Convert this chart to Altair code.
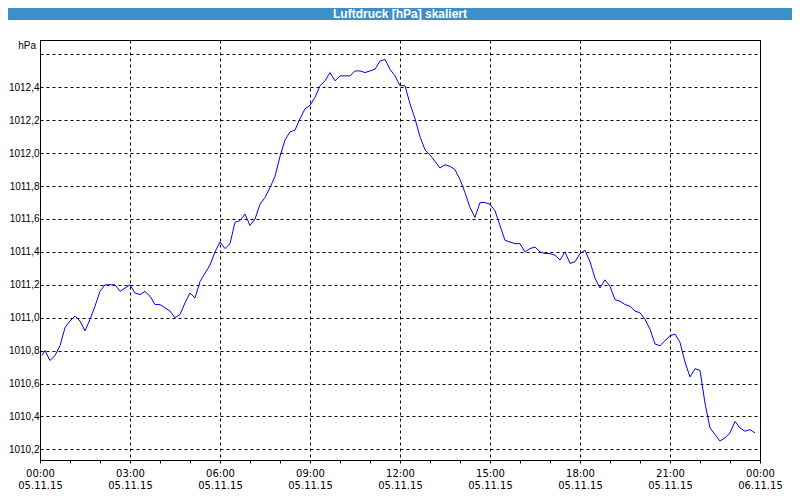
import altair as alt
import pandas as pd

title_text = "Luftdruck [hPa] skaliert"
unit_label = "hPa"

times = ["00:04"] + [f"{m // 60:02d}:{m % 60:02d}" for m in range(10, 1440, 10)]

pressure = [
    1010.77, 1010.80, 1010.74, 1010.77, 1010.83, 1010.94,
    1010.98, 1011.01, 1010.98, 1010.92, 1010.99, 1011.07,
    1011.16, 1011.20, 1011.20, 1011.20, 1011.16, 1011.18,
    1011.20, 1011.15, 1011.14, 1011.16, 1011.13, 1011.08,
    1011.08, 1011.06, 1011.04, 1011.00, 1011.02, 1011.09,
    1011.15, 1011.12, 1011.22, 1011.27, 1011.32, 1011.40,
    1011.46, 1011.42, 1011.45, 1011.58, 1011.59, 1011.63,
    1011.56, 1011.60, 1011.69, 1011.73, 1011.79, 1011.86,
    1011.98, 1012.08, 1012.13, 1012.14, 1012.21, 1012.27,
    1012.29, 1012.34, 1012.41, 1012.44, 1012.49, 1012.44,
    1012.47, 1012.47, 1012.47, 1012.50, 1012.50, 1012.49,
    1012.50, 1012.51, 1012.56, 1012.57, 1012.51, 1012.47,
    1012.41, 1012.41, 1012.30, 1012.21, 1012.10, 1012.02,
    1011.99, 1011.95, 1011.91, 1011.93, 1011.92, 1011.90,
    1011.84, 1011.76, 1011.67, 1011.61, 1011.70, 1011.70,
    1011.69, 1011.65, 1011.56, 1011.47, 1011.46, 1011.45,
    1011.45, 1011.40, 1011.42, 1011.43, 1011.40, 1011.39,
    1011.39, 1011.38, 1011.35, 1011.40, 1011.33, 1011.34,
    1011.39, 1011.41, 1011.34, 1011.24, 1011.18, 1011.23,
    1011.19, 1011.11, 1011.10, 1011.08, 1011.07, 1011.04,
    1011.03, 1010.99, 1010.93, 1010.84, 1010.83, 1010.86,
    1010.89, 1010.90, 1010.85, 1010.73, 1010.64, 1010.69,
    1010.68, 1010.48, 1010.33, 1010.29, 1010.25, 1010.27,
    1010.30, 1010.37, 1010.33, 1010.31, 1010.32, 1010.30,
]

y_ticks = [1010.2, 1010.4, 1010.6, 1010.8, 1011.0, 1011.2, 1011.4,
           1011.6, 1011.8, 1012.0, 1012.2, 1012.4, 1012.6]
x_ticks = list(range(0, 1441, 60))

df = pd.DataFrame({"time": times, "hPa": pressure})
df["minutes"] = df["time"].apply(lambda t: int(t[:2]) * 60 + int(t[3:]))

W, H = 720, 420
FONT = "DejaVu Sans"
BLUE = "#3c8fc7"

x_axis = alt.Axis(
    values=x_ticks,
    title=None,
    grid=True,
    gridColor="black",
    gridDash=[3, 3],
    gridWidth=1,
    gridOpacity={"condition": {"test": "datum.value % 180 === 0", "value": 1}, "value": 0},
    labelExpr="datum.value % 180 === 0 ? [format(floor(datum.value / 60) % 24, '02d') + ':00', datum.value >= 1440 ? '06.11.15' : '05.11.15'] : ''",
    tickSize=3,
    tickColor="black",
    domainColor="black",
    labelFont=FONT,
    labelFontSize=10,
    labelBaseline="top",
    labelPadding=5,
    labelLineHeight=12.5,
    labelFlush=False,
    labelOverlap=False,
)

y_axis = alt.Axis(
    values=y_ticks,
    title=None,
    ticks=False,
    grid=True,
    gridColor="black",
    gridDash=[3, 3],
    gridWidth=1,
    labelExpr="datum.value > 1012.5 ? '' : replace(format(datum.value, '.1f'), '.', ',')",
    labelFont="Liberation Sans",
    labelFontSize=10,
    labelPadding=1,
    domainColor="black",
    labelOverlap=False,
)

line = alt.Chart(df).mark_line(color="#0000ff", strokeWidth=1).encode(
    x=alt.X("minutes:Q", scale=alt.Scale(domain=[0, 1440], nice=False, zero=False), axis=x_axis),
    y=alt.Y("hPa:Q", scale=alt.Scale(domain=[1010.135, 1012.688], nice=False, zero=False), axis=y_axis),
)

label_df = pd.DataFrame({"t": [title_text], "u": [unit_label]})

bar = alt.Chart(label_df).mark_rect(color=BLUE).encode(
    x=alt.value(-32), x2=alt.value(752), y=alt.value(-32), y2=alt.value(-20)
)
title = alt.Chart(label_df).mark_text(
    color="white", fontWeight="bold", fontSize=12, font="Liberation Sans",
    align="center", baseline="middle"
).encode(x=alt.value(360), y=alt.value(-26), text="t:N")

unit = alt.Chart(label_df).mark_text(
    color="black", fontSize=10, font="Liberation Sans", align="right", baseline="middle"
).encode(x=alt.value(-4), y=alt.value(6), text="u:N")

chart = alt.layer(line, bar, title, unit).properties(
    width=W,
    height=H,
    padding={"left": 32, "top": 32, "right": 32, "bottom": 32},
    autosize="none",
    background="white",
).configure_view(
    stroke="black", strokeWidth=1
).configure_axis(
    labelColor="black"
)

chart.save("out.html", embed_options={"renderer": "svg", "actions": False})
